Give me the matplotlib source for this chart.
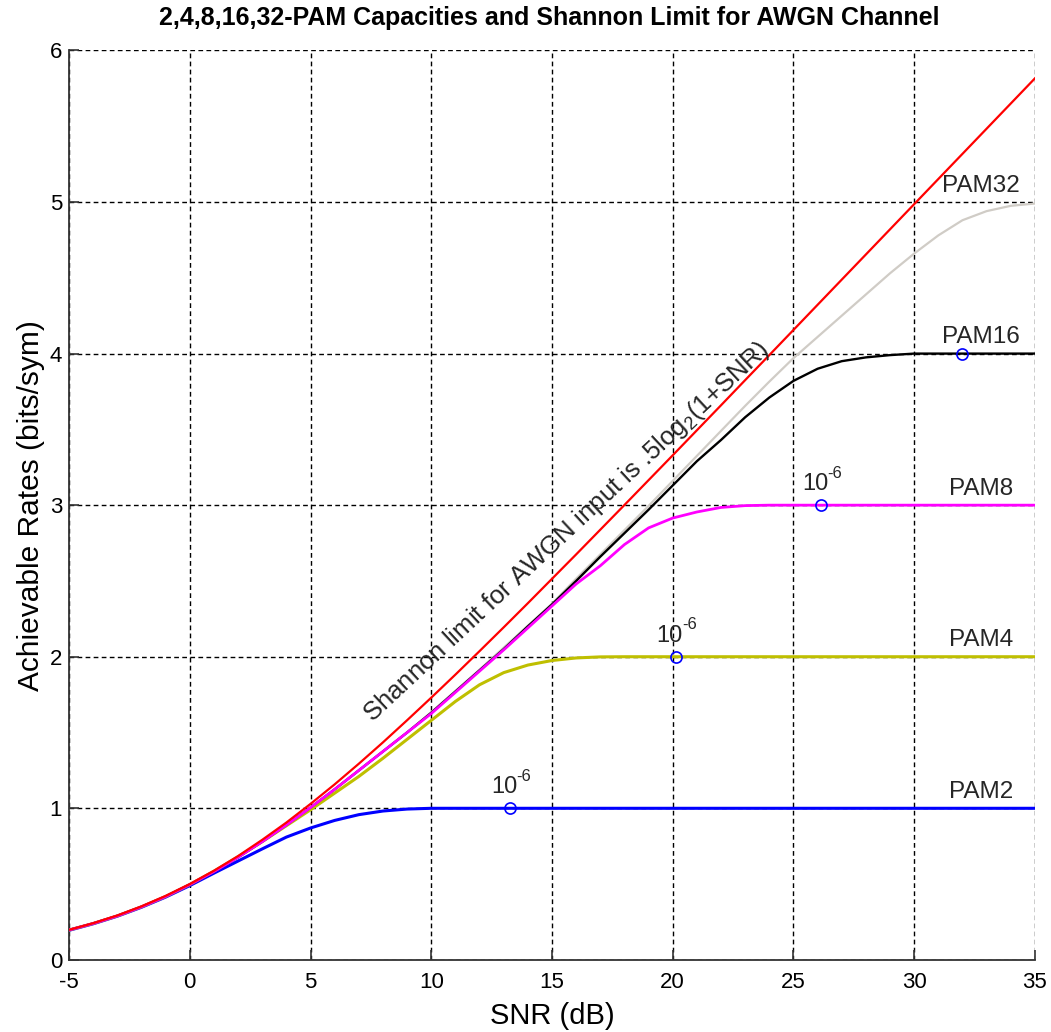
import numpy as np
import matplotlib
matplotlib.use('Agg')
import matplotlib.pyplot as plt

# SNR axis (dB), values at 1 dB steps
snr_db = list(range(-5, 36))

shannon = [0.198, 0.242, 0.293, 0.353, 0.422, 0.500, 0.588, 0.685, 0.792, 0.906,
           1.029, 1.158, 1.294, 1.435, 1.581, 1.730, 1.882, 2.037, 2.194, 2.353,
           2.514, 2.675, 2.838, 3.001, 3.165, 3.329, 3.494, 3.659, 3.825, 3.990,
           4.156, 4.322, 4.488, 4.654, 4.820, 4.986, 5.152, 5.318, 5.484, 5.650,
           5.816]

pam2 = [0.195, 0.238, 0.288, 0.347, 0.414, 0.490, 0.572, 0.652, 0.732, 0.810,
        0.870, 0.920, 0.958, 0.982, 0.995, 1.0, 1.0, 1.0, 1.0, 1.0,
        1.0, 1.0, 1.0, 1.0, 1.0, 1.0, 1.0, 1.0, 1.0, 1.0,
        1.0, 1.0, 1.0, 1.0, 1.0, 1.0, 1.0, 1.0, 1.0, 1.0,
        1.0]

pam4 = [0.197, 0.240, 0.290, 0.350, 0.418, 0.497, 0.585, 0.680, 0.780, 0.885,
        0.990, 1.100, 1.210, 1.330, 1.455, 1.580, 1.705, 1.815, 1.895, 1.945,
        1.975, 1.992, 1.999, 2.0, 2.0, 2.0, 2.0, 2.0, 2.0, 2.0,
        2.0, 2.0, 2.0, 2.0, 2.0, 2.0, 2.0, 2.0, 2.0, 2.0,
        2.0]

pam8 = [0.197, 0.240, 0.290, 0.350, 0.418, 0.497, 0.583, 0.677, 0.780, 0.890,
        1.005, 1.125, 1.250, 1.375, 1.500, 1.625, 1.765, 1.905, 2.045, 2.190,
        2.335, 2.480, 2.600, 2.740, 2.850, 2.915, 2.955, 2.985, 2.997, 3.0,
        3.0, 3.0, 3.0, 3.0, 3.0, 3.0, 3.0, 3.0, 3.0, 3.0,
        3.0]

pam16 = [0.197, 0.240, 0.290, 0.350, 0.418, 0.497, 0.583, 0.677, 0.780, 0.890,
         1.005, 1.125, 1.250, 1.375, 1.500, 1.630, 1.770, 1.910, 2.050, 2.200,
         2.345, 2.500, 2.660, 2.815, 2.970, 3.130, 3.290, 3.430, 3.580, 3.710,
         3.820, 3.900, 3.950, 3.975, 3.990, 4.0, 4.0, 4.0, 4.0, 4.0,
         4.0]

pam32 = [0.197, 0.240, 0.290, 0.350, 0.418, 0.497, 0.583, 0.677, 0.780, 0.890,
         1.005, 1.125, 1.250, 1.375, 1.500, 1.635, 1.775, 1.915, 2.060, 2.205,
         2.350, 2.515, 2.675, 2.835, 2.995, 3.160, 3.325, 3.490, 3.655, 3.815,
         3.970, 4.110, 4.250, 4.390, 4.530, 4.660, 4.780, 4.880, 4.940, 4.975,
         4.990]

# SNR where symbol error rate hits 1e-6
ser_snr = [13.26, 20.13, 26.14, 31.98]
ser_rate = [1, 2, 3, 4]

pam_names = ['PAM2', 'PAM4', 'PAM8', 'PAM16', 'PAM32']
pam_levels = [1, 2, 3, 4, 5]

plt.rcParams['font.family'] = ['Liberation Sans', 'DejaVu Sans']
plt.rcParams['axes.unicode_minus'] = False
plt.rcParams['mathtext.fontset'] = 'custom'
plt.rcParams['mathtext.rm'] = 'Liberation Sans'
plt.rcParams['mathtext.it'] = 'Liberation Sans:italic'

fig = plt.figure(figsize=(10.51, 10.32), dpi=100)
ax = fig.add_axes([0.0657, 0.0699, 0.919, 0.8812])

ax.plot(snr_db, pam2, color='#0000ff', lw=2.2, zorder=3)
ax.plot(snr_db, pam4, color='#bfbf00', lw=2.2, zorder=3)
ax.plot(snr_db, pam32, color='#d0ccc6', lw=1.6, zorder=3)
ax.plot(snr_db, pam16, color='black', lw=1.7, zorder=3)
ax.plot(snr_db, pam8, color='#ff00ff', lw=2.0, zorder=3)
ax.plot(snr_db, shannon, color='#ff0000', lw=1.6, zorder=4)

ax.plot(ser_snr, ser_rate, linestyle='none', marker='o', ms=8,
        mfc='none', mec='#0000ff', mew=1.2, zorder=5)
for x, y in zip(ser_snr[:3], ser_rate[:3]):
    ax.text(x - 0.25, y + 0.1, '10', ha='center', va='baseline',
            fontsize=17, color='#262626', zorder=6)
    ax.text(x + 0.28, y + 0.18, '-6', ha='left', va='baseline',
            fontsize=12, color='#262626', zorder=6)

for name, lev in zip(pam_names, pam_levels):
    ax.text(32.76, lev + 0.068, name, ha='center', va='baseline',
            fontsize=17.5, color='#262626', zorder=6)

ax.text(15.62, 2.82, r'Shannon limit for AWGN input is .5log$_2$(1+SNR)',
        rotation=43, rotation_mode='anchor', ha='center', va='center',
        fontsize=18.5, color='#262626', zorder=6)

ax.set_xlim(-5, 35)
ax.set_ylim(0, 6)
ax.set_xticks(range(-5, 36, 5))
ax.set_yticks(range(0, 7))
ax.grid(True, color='black', linestyle=(0, (3.4, 2.4)), lw=1.0)
ax.set_axisbelow(True)

for s in ['top', 'right']:
    ax.spines[s].set_visible(False)
for s in ['left', 'bottom']:
    ax.spines[s].set_color('#333333')
    ax.spines[s].set_linewidth(1.3)

ax.tick_params(direction='in', length=7, width=1.2, color='#333333',
               labelsize=16, pad=9)
ax.tick_params(axis='y', pad=5)

ax.set_xlabel('SNR (dB)', fontsize=21, labelpad=6)
ax.set_ylabel('Achievable Rates (bits/sym)', fontsize=21.5, labelpad=3)
fig.suptitle('2,4,8,16,32-PAM Capacities and Shannon Limit for AWGN Channel',
             x=0.523, y=0.994, fontsize=18, fontweight='bold')

fig.savefig('out.png', dpi=100)
